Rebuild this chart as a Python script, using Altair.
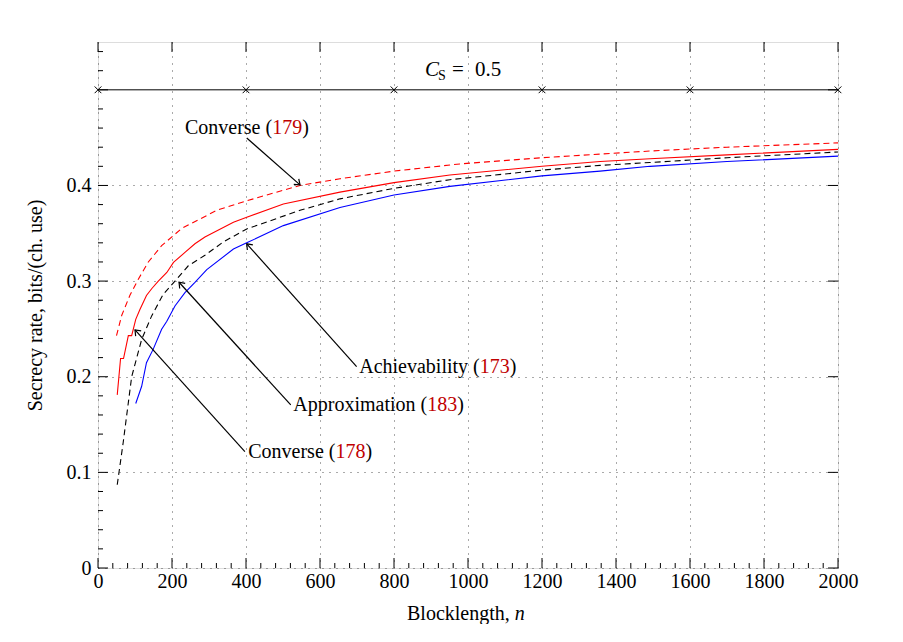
import altair as alt
import pandas as pd

# ---------------- data ----------------
n_conv179 = [50, 64, 86, 109, 136, 172, 226, 276, 321, 402, 546, 654, 800, 978, 1200, 1492, 1700, 2000]
r_conv179 = [0.243, 0.264, 0.285, 0.302, 0.320, 0.337, 0.355, 0.365, 0.374, 0.384, 0.400, 0.407,
             0.415, 0.4225, 0.429, 0.436, 0.440, 0.4445]

n_conv178 = [52, 61, 69, 82, 91, 102, 113, 131, 145, 163, 186, 204, 235, 262, 289, 366, 402, 501,
             654, 800, 951, 1200, 1357, 1492, 1700, 2000]
r_conv178 = [0.181, 0.219, 0.219, 0.243, 0.243, 0.260, 0.270, 0.285, 0.292, 0.300, 0.309, 0.3195,
             0.330, 0.339, 0.346, 0.3615, 0.3667, 0.3807, 0.393, 0.403, 0.411, 0.420, 0.425, 0.428,
             0.432, 0.4377]

n_approx183 = [52, 68, 91, 118, 145, 176, 208, 244, 289, 339, 402, 546, 654, 800, 951, 1200, 1357,
               1492, 1700, 2000]
r_approx183 = [0.087, 0.131, 0.200, 0.239, 0.2636, 0.286, 0.300, 0.316, 0.327, 0.341, 0.3545, 0.374,
               0.386, 0.397, 0.406, 0.416, 0.421, 0.424, 0.429, 0.435]

n_ach173 = [102, 118, 131, 149, 172, 186, 208, 235, 262, 294, 366, 402, 501, 654, 800, 951, 1200,
            1357, 1492, 1700, 2000]
r_ach173 = [0.172, 0.190, 0.2146, 0.2286, 0.2496, 0.258, 0.274, 0.288, 0.2986, 0.312, 0.3335, 0.340,
            0.358, 0.377, 0.390, 0.399, 0.410, 0.415, 0.420, 0.425, 0.4307]

cs_value = 0.5
cs_marks_n = [0, 400, 800, 1200, 1600, 2000]

x_major = list(range(0, 2001, 200))
x_minor = [v for v in range(0, 2001, 40) if v % 200 != 0]
y_major = [0.0, 0.1, 0.2, 0.3, 0.4, 0.5]
y_minor = [round(i * 0.02, 2) for i in range(1, 28) if i % 5 != 0]
y_labels = [0.0, 0.1, 0.2, 0.3, 0.4]

# annotations: label word, reference number, text anchor (n, rate), arrow start and tip (n, rate)
ann_word = ["Converse", "Achievability", "Approximation", "Converse"]
ann_ref = ["179", "173", "183", "178"]
ann_anchor_n = [235, 706, 528, 406]
ann_anchor_r = [0.460, 0.2106, 0.1705, 0.1217]
arrow_from_n = [402, 699, 521, 397]
arrow_from_r = [0.4496, 0.2106, 0.1705, 0.1217]
arrow_tip_n = [546, 402, 219, 100]
arrow_tip_r = [0.4006, 0.339, 0.2988, 0.249]

# ---------------- layout helpers ----------------
W, H = 740, 526
XMAX, YMAX = 2000, 0.55
PX_PER_N = W / XMAX
FONT = "Liberation Serif"
ANN_SIZE = 20
RED_REF = "#c00000"

# Times / Liberation Serif advance widths (em)
tw = {"C": .667, "o": .5, "n": .5, "v": .5, "e": .444, "r": .333, "s": .389, " ": .25, "(": .333,
      ")": .333, "A": .722, "c": .444, "h": .5, "i": .278, "a": .444, "b": .5, "l": .278, "t": .278,
      "y": .5, "p": .5, "x": .5, "m": .778, "B": .667, "k": .5, "g": .5, ",": .25}
for d in "0123456789":
    tw[d] = .5


def width(s, size):
    return sum(tw.get(ch, .5) for ch in s) * size


xs = alt.Scale(domain=[0, XMAX], nice=False, zero=False)
ys = alt.Scale(domain=[0, YMAX], nice=False, zero=False)

AX = alt.Axis(values=x_major, ticks=False, domain=False, grid=True, gridDash=[1, 6],
              gridColor="#555", gridWidth=1, labelFont=FONT, labelFontSize=20, format="d",
              labelColor="black", labelPadding=3, title=None, labelFlush=False)
AY = alt.Axis(values=y_labels, ticks=False, domain=False, grid=True, gridDash=[1, 6],
              gridColor="#555", gridWidth=1, labelFont=FONT, labelFontSize=20,
              labelColor="black", labelPadding=7, format=".1~f",
              title="Secrecy rate, bits/(ch. use)", titleFont=FONT, titleFontSize=20,
              titleFontWeight="normal", titleColor="black", titleAngle=-90,
              titleX=-63, titleY=H / 2, titleAlign="center", titleBaseline="middle")


def X(f):
    return alt.X(f, type="quantitative", scale=xs, axis=AX)


def Y(f):
    return alt.Y(f, type="quantitative", scale=ys, axis=AY)


rows = []
for name, n, r in [("c179", n_conv179, r_conv179), ("c178", n_conv178, r_conv178),
                   ("a183", n_approx183, r_approx183), ("a173", n_ach173, r_ach173)]:
    for i, (a, b) in enumerate(zip(n, r)):
        rows.append({"series": name, "n": a, "rate": b, "ord": i})
df = pd.DataFrame(rows)


def series_line(name, color, dash=None):
    kw = dict(color=color, strokeWidth=1.1)
    if dash:
        kw["strokeDash"] = dash
    return alt.Chart(df[df.series == name]).mark_line(**kw).encode(
        x=X("n"), y=Y("rate"), order="ord:Q")


lines = [
    series_line("c179", "#ff0000", [6, 4]),
    series_line("c178", "#ff0000"),
    series_line("a183", "black", [6, 4]),
    series_line("a173", "#0000ff"),
]

# C_S line with cross markers
cs_df = pd.DataFrame({"n": cs_marks_n, "rate": [cs_value] * len(cs_marks_n)})
cs_line = alt.Chart(cs_df).mark_line(color="black", strokeWidth=1).encode(x=X("n"), y=Y("rate"))
cs_pts = alt.Chart(cs_df).mark_point(shape="M-1,-1L1,1M-1,1L1,-1", size=45, color="black",
                                     filled=False, strokeWidth=1, opacity=1).encode(
    x=X("n"), y=Y("rate"))

one = cs_df.head(1)
cs_text = [
    alt.Chart(one).mark_text(text="C", font=FONT, fontSize=21, fontStyle="italic",
                             align="left", baseline="middle").encode(
        x=alt.value(327), y=alt.value(28)),
    alt.Chart(one).mark_text(text="S", font=FONT, fontSize=14, align="left",
                             baseline="middle").encode(
        x=alt.value(340), y=alt.value(34)),
    alt.Chart(one).mark_text(text="=", font=FONT, fontSize=21, align="left",
                             baseline="middle").encode(
        x=alt.value(354), y=alt.value(28)),
    alt.Chart(one).mark_text(text="0.5", font=FONT, fontSize=21, align="left",
                             baseline="middle").encode(
        x=alt.value(377), y=alt.value(28)),
]

# x-axis title (upright text + italic n)
xt_left = 309
xtitle = [
    alt.Chart(one).mark_text(text="Blocklength,", font=FONT, fontSize=20, align="left",
                             baseline="middle").encode(
        x=alt.value(xt_left), y=alt.value(572)),
    alt.Chart(one).mark_text(text="n", font=FONT, fontSize=20, fontStyle="italic",
                             align="left", baseline="middle").encode(
        x=alt.value(xt_left + width("Blocklength, ", 20)), y=alt.value(572)),
]


# ticks drawn inward
def xticks(vals, length, top):
    d = pd.DataFrame({"n": vals})
    if top:
        yy = dict(y=alt.value(0), y2=alt.value(length))
    else:
        yy = dict(y=alt.value(H), y2=alt.value(H - length))
    return alt.Chart(d).mark_rule(color="black", strokeWidth=1).encode(x=X("n"), **yy)


def yticks(vals, length, right):
    d = pd.DataFrame({"rate": vals})
    if right:
        xx = dict(x=alt.value(W), x2=alt.value(W - length))
    else:
        xx = dict(x=alt.value(0), x2=alt.value(length))
    return alt.Chart(d).mark_rule(color="black", strokeWidth=1).encode(y=Y("rate"), **xx)


ticks = [xticks(x_major, 10, False), xticks(x_minor, 5, False), xticks(x_major, 10, True),
         yticks(y_major, 10, False), yticks(y_minor, 5, False), yticks(y_major, 10, True)]

# annotations
arr_df = pd.DataFrame({"n": arrow_from_n, "rate": arrow_from_r, "n2": arrow_tip_n,
                       "r2": arrow_tip_r, "ang": [131.6, 317.5, 317.0, 317.0]})
arrows = alt.Chart(arr_df).mark_rule(color="black", strokeWidth=1.2).encode(
    x=X("n"), y=Y("rate"), x2="n2:Q", y2="r2:Q")
heads = alt.Chart(arr_df).mark_point(shape="M-0.75,1L0,0L0.75,1", size=100, color="black",
                                     filled=False, strokeWidth=1.2, opacity=1).encode(
    x=X("n2"), y=Y("r2"), angle=alt.Angle("ang:Q", scale=None))

parts = []
for w, ref, an, ar in zip(ann_word, ann_ref, ann_anchor_n, ann_anchor_r):
    first = w + " ("
    w1 = width(first, ANN_SIZE)
    w2 = width(ref, ANN_SIZE)
    parts.append({"n": an, "rate": ar, "txt": first, "col": "black"})
    parts.append({"n": an + w1 / PX_PER_N, "rate": ar, "txt": ref, "col": RED_REF})
    parts.append({"n": an + (w1 + w2) / PX_PER_N, "rate": ar, "txt": ")", "col": "black"})
parts_df = pd.DataFrame(parts)
ann_text = alt.Chart(parts_df).mark_text(font=FONT, fontSize=ANN_SIZE, align="left",
                                         baseline="middle").encode(
    x=X("n"), y=Y("rate"), text="txt:N", color=alt.Color("col:N", scale=None))

chart = alt.layer(*ticks, cs_line, cs_pts, *lines, arrows, heads, ann_text,
                  *cs_text, *xtitle).properties(
    width=W, height=H,
    autosize=alt.AutoSizeParams(type="none"),
    padding={"left": 90, "top": 34, "right": 50, "bottom": 56},
).configure_view(stroke="black", strokeWidth=1.2).configure(background="white")

chart.save("out.html", embed_options={"renderer": "svg", "actions": False})
